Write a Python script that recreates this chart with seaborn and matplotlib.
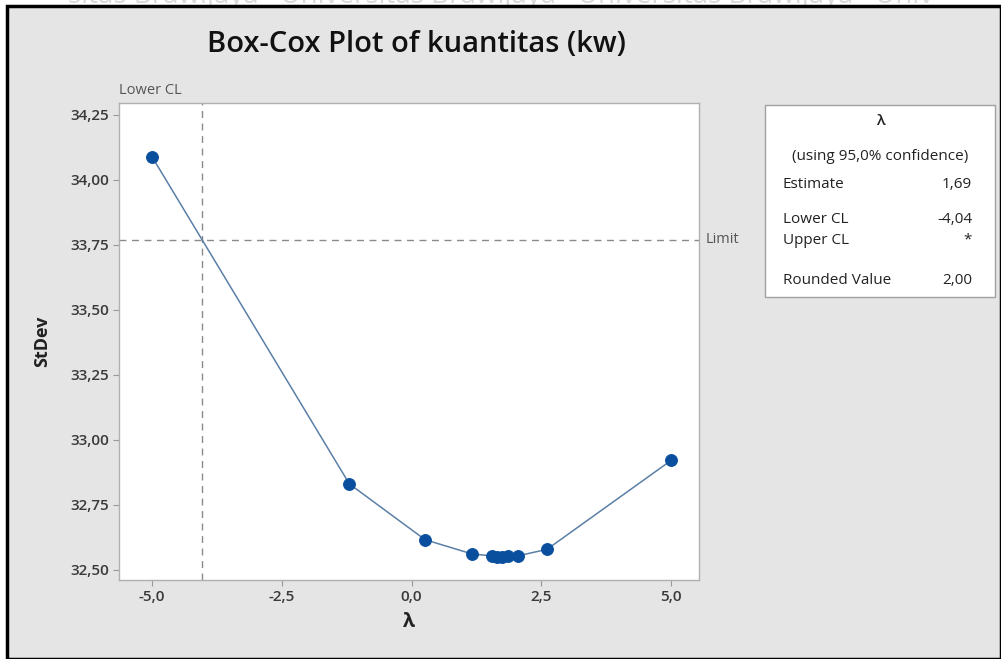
import matplotlib
matplotlib.use("Agg")
import matplotlib.pyplot as plt
import seaborn as sns
import pandas as pd
from matplotlib.patches import Rectangle

# Data
lambdas = [-5.0, -1.20, 0.26, 1.17, 1.55, 1.65, 1.74, 1.86, 2.05, 2.61, 5.0]
stdevs = [34.088, 32.830, 32.615, 32.560, 32.553, 32.550, 32.549, 32.551, 32.553, 32.578, 32.920]
lower_cl = -4.04
limit = 33.77
xticks = [-5.0, -2.5, 0.0, 2.5, 5.0]
yticks = [32.50, 32.75, 33.00, 33.25, 33.50, 33.75, 34.00, 34.25]
legend_rows = [("Estimate", "1,69"), ("Lower CL", "-4,04"), ("Upper CL", "*"), ("Rounded Value", "2,00")]

sns.set_style("white")
plt.rcParams['font.family'] = ['Open Sans', 'DejaVu Sans']

W, H = 1001, 659
fig = plt.figure(figsize=(W / 100, H / 100), dpi=100)
fig.patch.set_facecolor("white")

# outer frame
frame = Rectangle((7 / W, 0), 1 - 7 / W, 1 - 6 / H, transform=fig.transFigure,
                  facecolor="#e5e5e5", edgecolor="black", linewidth=2.5, zorder=-10)
fig.patches.append(frame)

# watermark (partially cut off, as in the source screenshot)
fig.text(0.5, 1 + 4 / H, "sitas Brawijaya   Universitas Brawijaya   Universitas Brawijaya   Univ",
         ha="center", va="center", fontsize=20, color="#d8d8d8", zorder=-11)

ax_l, ax_r, ax_t, ax_b = 119, 699, 103, 580
ax = fig.add_axes([ax_l / W, 1 - ax_b / H, (ax_r - ax_l) / W, (ax_b - ax_t) / H])
ax.set_facecolor("white")

df = pd.DataFrame({"lam": lambdas, "sd": stdevs})
sns.lineplot(data=df, x="lam", y="sd", ax=ax, color="#5b7fa6", linewidth=1.1,
             marker="o", markersize=8.5, markerfacecolor="#0a4f9e",
             markeredgecolor="#0a4f9e", sort=False, zorder=3)

ax.axvline(lower_cl, color="#8a8a8a", linestyle=(0, (5, 4)), linewidth=1.0, zorder=1)
ax.axhline(limit, color="#8a8a8a", linestyle=(0, (5, 4)), linewidth=1.0, zorder=1)

ax.set_xlim(-5.64, 5.54)
ax.set_ylim(32.46, 34.296)
ax.set_xticks(xticks)
ax.set_xticklabels([f"{v:.1f}".replace(".", ",") for v in xticks], fontweight="semibold")
ax.set_yticks(yticks)
ax.set_yticklabels([f"{v:.2f}".replace(".", ",") for v in yticks], fontweight="semibold")
ax.tick_params(axis="both", which="both", direction="out", length=4, width=0.8,
               color="#999999", labelsize=11, labelcolor="#3a3a3a", pad=3,
               bottom=True, left=True)
for s in ax.spines.values():
    s.set_color("#b0b0b0")
    s.set_linewidth(1.0)

ax.set_xlabel("λ", fontsize=14, fontweight="bold", color="#222222", labelpad=6)
ax.set_ylabel("StDev", fontsize=13, fontweight="bold", color="#222222", labelpad=14)

ax.text(0.0, 1.01, "Lower CL", transform=ax.transAxes, ha="left", va="bottom",
        fontsize=10.5, color="#555555")
ax.text(1.012, (limit - 32.46) / (34.296 - 32.46), "Limit", transform=ax.transAxes,
        ha="left", va="center", fontsize=10.5, color="#555555")

fig.text(416 / W, 1 - 44 / H, "Box-Cox Plot of kuantitas (kw)", ha="center", va="center",
         fontsize=21, fontweight="semibold", color="#111111")

# legend box
bx0, by0, bx1, by1 = 765, 105, 995, 297
box = Rectangle((bx0 / W, 1 - by1 / H), (bx1 - bx0) / W, (by1 - by0) / H,
                transform=fig.transFigure, facecolor="white", edgecolor="#a0a0a0",
                linewidth=1.0, zorder=2)
fig.patches.append(box)
fs = 11
fig.text((bx0 + bx1) / 2 / W, 1 - 121 / H, "λ", ha="center", va="center", fontsize=fs,
         fontweight="semibold", color="#222222", zorder=3)
fig.text((bx0 + bx1) / 2 / W, 1 - 156 / H, "(using 95,0% confidence)", ha="center", va="center",
         fontsize=fs, fontweight="medium", color="#222222", zorder=3)
row_y = [184, 219, 240, 280]
for (lab, val), yy in zip(legend_rows, row_y):
    fig.text(783 / W, 1 - yy / H, lab, ha="left", va="center", fontsize=fs,
             fontweight="medium", color="#222222", zorder=3)
    fig.text(972 / W, 1 - yy / H, val, ha="right", va="center", fontsize=fs,
             fontweight="medium", color="#222222", zorder=3)

fig.savefig("out.png", dpi=100)
